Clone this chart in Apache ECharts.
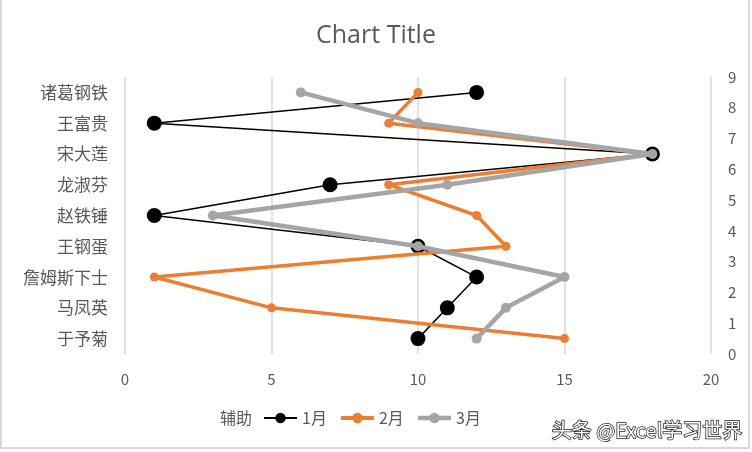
<!DOCTYPE html>
<html>
<head>
<meta charset="utf-8">
<script src="https://cdn.jsdelivr.net/npm/echarts@6/dist/echarts.min.js"></script>
<style>html,body{margin:0;padding:0;background:#fff;}#c{width:752px;height:452px;}</style>
</head>
<body>
<div id="c"></div>
<script>
var categories = ['于予菊','马凤英','詹姆斯下士','王钢蛋','赵铁锤','龙淑芬','宋大莲','王富贵','诸葛钢铁'];
var helperY = [0.5,1.5,2.5,3.5,4.5,5.5,6.5,7.5,8.5];
var jan = [10,11,12,10,1,7,18,1,12];
var feb = [15,5,1,13,12,9,18,9,10];
var mar = [12,13,15,10,3,11,18,10,6];
var xTicks = [0,5,10,15,20];
var yTicks = [0,1,2,3,4,5,6,7,8,9];

function pts(arr){ return arr.map(function(v,i){ return [v, helperY[i]]; }); }
var font = '"Noto Sans CJK SC", "Noto Sans", sans-serif';
var chart = echarts.init(document.getElementById('c'));
chart.setOption({
  animation:false,
  backgroundColor:'#fff',
  title:{text:'Chart Title', left:'center', top:23, padding:0, textStyle:{color:'#595959', fontSize:25, fontWeight:'normal', fontFamily:'"Open Sans", "Noto Sans", sans-serif'}},
  grid:{left:125, right:41, top:77, bottom:98, containLabel:false},
  xAxis:{type:'value', min:xTicks[0], max:xTicks[xTicks.length-1], interval:5,
    axisLine:{show:false}, axisTick:{show:false},
    splitLine:{show:true, lineStyle:{color:'#d9d9d9', width:1.5}},
    axisLabel:{color:'#595959', fontSize:15, margin:18, fontFamily:font}},
  yAxis:[
    {type:'category', position:'left', data:categories, boundaryGap:true,
      axisLine:{show:false}, axisTick:{show:false}, splitLine:{show:false},
      axisLabel:{color:'#595959', fontSize:17, margin:17, fontFamily:font}},
    {type:'value', position:'right', min:yTicks[0], max:yTicks[yTicks.length-1], interval:1,
      axisLine:{show:false}, axisTick:{show:false}, splitLine:{show:false},
      axisLabel:{color:'#595959', fontSize:15, margin:17, fontFamily:font}}
  ],
  legend:[
    {data:[{name:'辅助', icon:'none'}], left:214, top:410, padding:0, itemWidth:1, itemHeight:10,
      textStyle:{color:'#595959', fontSize:16, fontFamily:font}},
    {data:[
        {name:'1月', lineStyle:{width:2}},
        {name:'2月', lineStyle:{width:4}},
        {name:'3月', lineStyle:{width:4.5}}
      ], left:263, top:410, padding:0, itemWidth:33, itemHeight:13, itemGap:12,
      textStyle:{color:'#595959', fontSize:16, fontFamily:font}}
  ],
  series:[
    {name:'辅助', type:'line', yAxisIndex:1, data:[], showSymbol:false, lineStyle:{opacity:0}},
    {name:'1月', type:'line', yAxisIndex:1, data:pts(jan), symbol:'circle', symbolSize:15,
      itemStyle:{color:'#000'}, lineStyle:{color:'#000', width:1.5}, z:2},
    {name:'2月', type:'line', yAxisIndex:1, data:pts(feb), symbol:'circle', symbolSize:9,
      itemStyle:{color:'#ED7D31'}, lineStyle:{color:'#ED7D31', width:3.5}, z:3},
    {name:'3月', type:'line', yAxisIndex:1, data:pts(mar), symbol:'circle', symbolSize:10,
      itemStyle:{color:'#A5A5A5'}, lineStyle:{color:'#A5A5A5', width:4.5}, z:4}
  ],
  graphic:[
    {type:'rect', shape:{x:1, y:-10, width:748, height:458}, style:{fill:'none', stroke:'#d9d9d9', lineWidth:2}, silent:true},
    {type:'text', left:551, top:420, style:{text:'头条 @Excel学习世界', fontSize:20, fontFamily:font, fill:'#fff', stroke:'#222', lineWidth:1.5}, z:100}
  ]
});
</script>
</body>
</html>
